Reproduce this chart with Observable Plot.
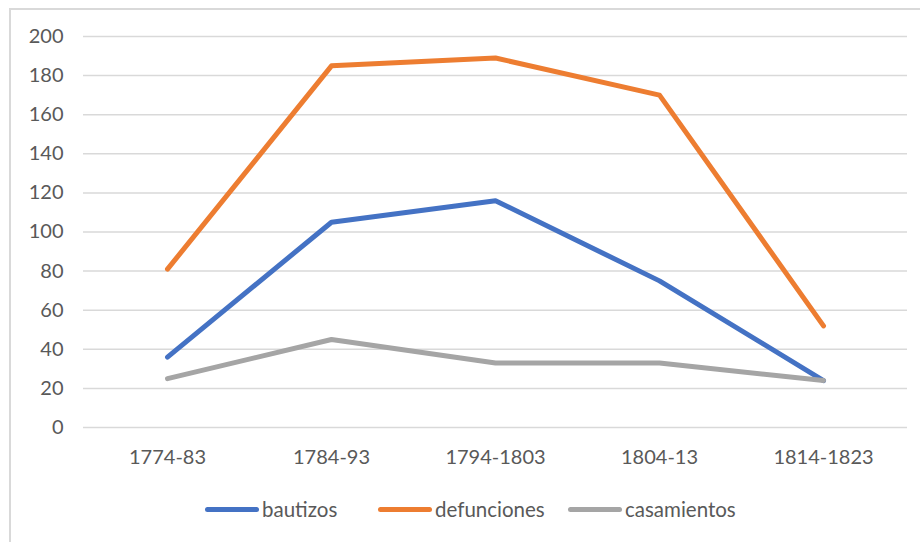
<!DOCTYPE html>
<html>
<head>
<meta charset="utf-8">
<script src="https://cdn.jsdelivr.net/npm/d3@7"></script>
<script src="https://cdn.jsdelivr.net/npm/@observablehq/plot@0.6"></script>
<style>
  html, body { margin: 0; padding: 0; background: #fff; }
  body { width: 920px; height: 542px; overflow: hidden; position: relative; font-family: Lato, "Open Sans", sans-serif; }
  #frame { position: absolute; left: 9px; top: 8px; width: 960px; height: 600px; border-left: 2px solid #d9d9d9; border-top: 2px solid #d9d9d9; }
  #chart { position: absolute; left: 0; top: 0; }
  #legend { position: absolute; left: 0; top: 494px; width: 920px; height: 30px; font-size: 20.5px; color: #595959; }
  .item { position: absolute; top: 0; display: flex; align-items: center; height: 30px; }
  .sw { width: 54px; height: 5px; border-radius: 3px; margin-right: 3px; }
</style>
</head>
<body>
<div id="frame"></div>
<div id="chart"></div>
<div id="legend"></div>
<script>
const periods = ["1774-83", "1784-93", "1794-1803", "1804-13", "1814-1823"];
const bautizos = [36, 105, 116, 75, 24];
const defunciones = [81, 185, 189, 170, 52];
const casamientos = [25, 45, 33, 33, 24];
const seriesNames = ["bautizos", "defunciones", "casamientos"];
const seriesColors = ["#4472C4", "#ED7D31", "#A5A5A5"];
const yTicks = [0, 20, 40, 60, 80, 100, 120, 140, 160, 180, 200];

const seriesValues = [bautizos, defunciones, casamientos];
const data = [];
seriesNames.forEach((s, i) => periods.forEach((p, j) => data.push({serie: s, periodo: p, valor: seriesValues[i][j]})));

const plot = Plot.plot({
  width: 920,
  height: 480,
  marginLeft: 83,
  marginRight: 13,
  marginTop: 36,
  marginBottom: 53,
  style: {fontFamily: "Lato, 'Open Sans', sans-serif", fontSize: "20px", color: "#595959", background: "transparent", overflow: "visible"},
  x: {type: "point", domain: periods, padding: 0.5, label: null},
  y: {domain: [0, 200], ticks: yTicks, label: null},
  color: {domain: seriesNames, range: seriesColors},
  marks: [
    Plot.ruleY(yTicks, {stroke: "#d9d9d9", strokeWidth: 1.5}),
    Plot.axisY({ticks: yTicks, tickSize: 0, tickPadding: 20, label: null, fill: "#595959"}),
    Plot.axisX({tickSize: 0, tickPadding: 22, label: null, fill: "#595959"}),
    Plot.line(data, {x: "periodo", y: "valor", z: "serie", stroke: "serie", strokeWidth: 5, strokeLinecap: "round", strokeLinejoin: "round"})
  ]
});
document.getElementById("chart").appendChild(plot);

const legendPos = [205, 378, 568];
const legend = document.getElementById("legend");
seriesNames.forEach((s, i) => {
  const item = document.createElement("div");
  item.className = "item";
  item.style.left = legendPos[i] + "px";
  const sw = document.createElement("div");
  sw.className = "sw";
  sw.style.background = seriesColors[i];
  const lab = document.createElement("span");
  lab.textContent = s;
  item.appendChild(sw);
  item.appendChild(lab);
  legend.appendChild(item);
});
</script>
</body>
</html>
